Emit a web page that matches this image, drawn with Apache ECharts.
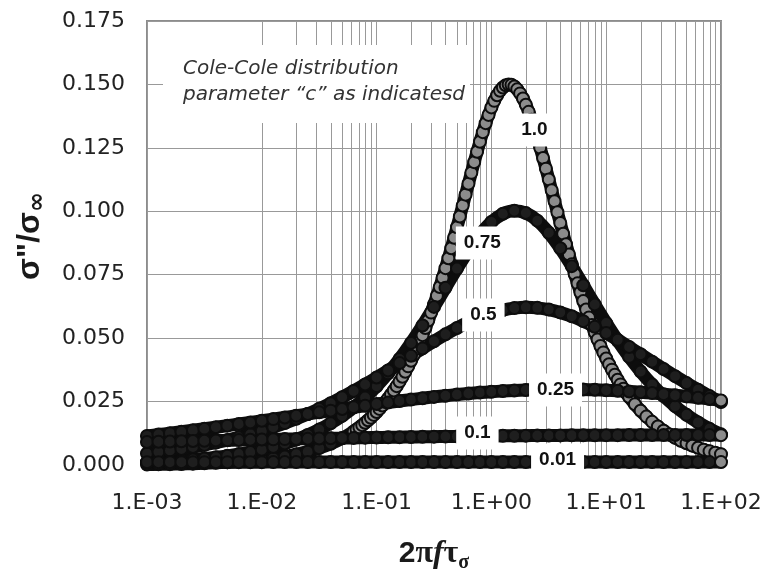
<!DOCTYPE html>
<html>
<head>
<meta charset="utf-8">
<script src="https://cdn.jsdelivr.net/npm/echarts@6/dist/echarts.min.js"></script>
<style>html,body{margin:0;padding:0;background:#fff}#chart{width:770px;height:576px}</style>
</head>
<body>
<div id="chart"></div>
<script>
// 2*pi*f*tau sampling, 0.1 decade
var freq = [0.001, 0.001259, 0.001585, 0.001995, 0.002512, 0.003162, 0.003981, 0.005012, 0.00631, 0.007943,
    0.01, 0.01259, 0.01585, 0.01995, 0.02512, 0.03162, 0.03981, 0.05012, 0.0631, 0.07943,
    0.1, 0.1259, 0.1585, 0.1995, 0.2512, 0.3162, 0.3981, 0.5012, 0.631, 0.7943,
    1, 1.259, 1.585, 1.995, 2.512, 3.162, 3.981, 5.012, 6.31, 7.943,
    10, 12.59, 15.85, 19.95, 25.12, 31.62, 39.81, 50.12, 63.1, 79.43, 100];

// finer sampling for the c = 1.0 curve
var freqFine = [0.001, 0.001259, 0.001585, 0.001995, 0.002512, 0.003162, 0.003981, 0.005012, 0.00631, 0.007943,
    0.01, 0.01259, 0.01585, 0.01995, 0.02512, 0.03162, 0.03981, 0.05012, 0.0631,
    0.06683, 0.07079, 0.07499, 0.07943, 0.08414, 0.08913, 0.09441, 0.1,
    0.1059, 0.1122, 0.1189, 0.1259, 0.1334, 0.1413, 0.1496, 0.1585,
    0.1679, 0.1778, 0.1884, 0.1995, 0.2113, 0.2239, 0.2371, 0.2512,
    0.2661, 0.2818, 0.2985, 0.3162, 0.335, 0.3548, 0.3758, 0.3981,
    0.4217, 0.4467, 0.4732, 0.5012, 0.5309, 0.5623, 0.5957, 0.631,
    0.6683, 0.7079, 0.7499, 0.7943, 0.8414, 0.8913, 0.9441, 1,
    1.059, 1.122, 1.189, 1.259, 1.334, 1.413, 1.496, 1.585,
    1.679, 1.778, 1.884, 1.995, 2.113, 2.239, 2.371, 2.512,
    2.661, 2.818, 2.985, 3.162, 3.35, 3.548, 3.758, 3.981,
    4.217, 4.467, 4.732, 5.012, 5.309, 5.623, 5.957, 6.31,
    6.683, 7.079, 7.499, 7.943, 8.414, 8.913, 9.441, 10,
    10.59, 11.22, 11.89, 12.59, 13.34, 14.13, 14.96, 15.85,
    17.78, 19.95, 22.39, 25.12, 28.18, 31.62, 35.48, 39.81, 44.67, 50.12, 56.23, 63.1, 70.79, 79.43, 89.13, 100];

var c100 = [0.00021, 0.00026, 0.00033, 0.00042, 0.00053, 0.00066, 0.00084, 0.00105, 0.00133, 0.00167,
    0.0021, 0.00264, 0.00333, 0.00419, 0.00527, 0.00664, 0.00835, 0.01051, 0.01322,
    0.01400, 0.01483, 0.01570, 0.01663, 0.01761, 0.01864, 0.01974, 0.02090,
    0.02212, 0.02342, 0.02479, 0.02623, 0.02776, 0.02938, 0.03108, 0.03288,
    0.03477, 0.03677, 0.03888, 0.04110, 0.04343, 0.04589, 0.04846, 0.05117,
    0.05400, 0.05697, 0.06007, 0.06331, 0.06668, 0.07018, 0.07382, 0.07758,
    0.08146, 0.08545, 0.08954, 0.09371, 0.09796, 0.10225, 0.10656, 0.11087,
    0.11515, 0.11936, 0.12346, 0.12742, 0.13119, 0.13473, 0.13799, 0.14094,
    0.14353, 0.14573, 0.14750, 0.14881, 0.14965, 0.14999, 0.14984, 0.14919,
    0.14807, 0.14647, 0.14444, 0.14200, 0.13919, 0.13604, 0.13260, 0.12892,
    0.12503, 0.12098, 0.11681, 0.11256, 0.10825, 0.10394, 0.09964, 0.09537,
    0.09117, 0.08704, 0.08301, 0.07909, 0.07528, 0.07159, 0.06804, 0.06461,
    0.06132, 0.05817, 0.05515, 0.05226, 0.04951, 0.04688, 0.04438, 0.04200,
    0.03974, 0.03759, 0.03555, 0.03361, 0.03177, 0.03003, 0.02838, 0.02682,
    0.02395, 0.02137, 0.01907, 0.01701, 0.01517, 0.01353, 0.01206, 0.01075,
    0.00958, 0.00854, 0.00762, 0.00679, 0.00605, 0.00539, 0.00481, 0.00428];

var c075 = [0.00109, 0.00129, 0.00153, 0.00182, 0.00216, 0.00257, 0.00305, 0.00362, 0.00429, 0.00509,
    0.00603, 0.00714, 0.00846, 0.01000, 0.01182, 0.01395, 0.01644, 0.01935, 0.02272, 0.02660,
    0.03106, 0.03612, 0.04181, 0.04812, 0.05499, 0.06231, 0.06988, 0.07741, 0.08453, 0.09081,
    0.09577, 0.09901, 0.10022, 0.09929, 0.09630, 0.09154, 0.08541, 0.07837, 0.07087, 0.06329,
    0.05593, 0.04899, 0.04260, 0.03683, 0.03169, 0.02715, 0.02319, 0.01976, 0.01680, 0.01425, 0.01208];

var c050 = [0.00455, 0.00509, 0.00568, 0.00635, 0.00708, 0.00790, 0.00880, 0.00980, 0.01090, 0.01212,
    0.01345, 0.01491, 0.01651, 0.01825, 0.02013, 0.02216, 0.02435, 0.02668, 0.02915, 0.03176,
    0.03448, 0.03729, 0.04017, 0.04307, 0.04596, 0.04879, 0.05149, 0.05401, 0.05629, 0.05826,
    0.05988, 0.06108, 0.06184, 0.06213, 0.06194, 0.06127, 0.06015, 0.05861, 0.05670, 0.05448,
    0.05200, 0.04933, 0.04652, 0.04364, 0.04074, 0.03785, 0.03502, 0.03228, 0.02965, 0.02715, 0.02479];

var c025 = [0.01147, 0.01200, 0.01255, 0.01311, 0.01369, 0.01428, 0.01489, 0.01551, 0.01614, 0.01678,
    0.01743, 0.01809, 0.01875, 0.01942, 0.02009, 0.02076, 0.02142, 0.02209, 0.02274, 0.02338,
    0.02401, 0.02462, 0.02521, 0.02578, 0.02632, 0.02684, 0.02732, 0.02777, 0.02818, 0.02855,
    0.02887, 0.02915, 0.02939, 0.02958, 0.02971, 0.02980, 0.02984, 0.02982, 0.02975, 0.02964,
    0.02947, 0.02925, 0.02899, 0.02868, 0.02833, 0.02793, 0.02750, 0.02703, 0.02653, 0.02600, 0.02544];

var c010 = [0.00907, 0.00917, 0.00927, 0.00937, 0.00946, 0.00956, 0.00966, 0.00975, 0.00984, 0.00994,
    0.01003, 0.01011, 0.01020, 0.01029, 0.01037, 0.01046, 0.01054, 0.01061, 0.01069, 0.01077,
    0.01084, 0.01091, 0.01098, 0.01104, 0.01111, 0.01117, 0.01123, 0.01128, 0.01134, 0.01139,
    0.01144, 0.01148, 0.01152, 0.01156, 0.01160, 0.01163, 0.01167, 0.01169, 0.01172, 0.01174,
    0.01176, 0.01177, 0.01179, 0.01180, 0.01180, 0.01181, 0.01181, 0.01180, 0.01180, 0.01179, 0.01177];

var c001 = [0.00113, 0.00113, 0.00113, 0.00113, 0.00113, 0.00113, 0.00113, 0.00113, 0.00113, 0.00113,
    0.00113, 0.00114, 0.00114, 0.00114, 0.00114, 0.00114, 0.00114, 0.00114, 0.00114, 0.00114,
    0.00114, 0.00114, 0.00114, 0.00114, 0.00114, 0.00114, 0.00114, 0.00114, 0.00114, 0.00114,
    0.00114, 0.00115, 0.00115, 0.00115, 0.00115, 0.00115, 0.00115, 0.00115, 0.00115, 0.00115,
    0.00115, 0.00115, 0.00115, 0.00115, 0.00115, 0.00115, 0.00115, 0.00115, 0.00115, 0.00115, 0.00115];

// curve labels (data coords)
var labelText = ['1.0', '0.75', '0.5', '0.25', '0.1', '0.01'];
var labelX = [2.37, 0.834, 0.851, 3.62, 0.755, 3.77];
var labelY = [0.132, 0.0875, 0.0591, 0.0296, 0.0126, 0.0020];

// minor log gridlines
var minorX = [0.002, 0.003, 0.004, 0.005, 0.006, 0.007, 0.008, 0.009,
    0.02, 0.03, 0.04, 0.05, 0.06, 0.07, 0.08, 0.09,
    0.2, 0.3, 0.4, 0.5, 0.6, 0.7, 0.8, 0.9,
    2, 3, 4, 5, 6, 7, 8, 9,
    20, 30, 40, 50, 60, 70, 80, 90];

var GRAY = '#8c8c8c';
var DARK = '#1e1e1e';
var GRID = '#999999';

function points(xs, ys, grayFrom) {
    return ys.map(function (y, i) {
        var fill = (grayFrom != null && xs[i] >= grayFrom) || i === ys.length - 1 ? GRAY : DARK;
        return { value: [xs[i], y], itemStyle: { color: fill } };
    });
}

function curve(name, xs, ys, grayFrom) {
    return {
        name: name,
        type: 'line',
        data: points(xs, ys, grayFrom),
        smooth: 0.3,
        clip: false,
        showAllSymbol: true,
        symbol: 'circle',
        symbolSize: 12,
        itemStyle: { borderColor: '#0d0d0d', borderWidth: 2 },
        lineStyle: { color: '#0d0d0d', width: 13, cap: 'round' },
        z: 10
    };
}

var chart = echarts.init(document.getElementById('chart'));
var option = {
    animation: false,
    grid: { left: 147, right: 49, top: 21, bottom: 111, show: true, borderColor: '#8c8c8c', borderWidth: 2 },
    xAxis: {
        type: 'log',
        logBase: 10,
        min: 0.001,
        max: 100,
        axisLine: { show: false },
        axisTick: { show: false },
        splitLine: { show: true, lineStyle: { color: GRID, width: 1 } },
        axisLabel: {
            margin: 27,
            fontFamily: 'DejaVu Sans',
            fontSize: 22,
            color: '#222',
            formatter: function (v) {
                var e = Math.round(Math.log10(v));
                return '1.E' + (e < 0 ? '-' : '+') + String(Math.abs(e)).padStart(2, '0');
            }
        }
    },
    yAxis: {
        type: 'value',
        min: 0,
        max: 0.175,
        interval: 0.025,
        axisLine: { show: false },
        axisTick: { show: false },
        splitLine: { show: true, lineStyle: { color: GRID, width: 1 } },
        axisLabel: {
            margin: 22,
            fontFamily: 'DejaVu Sans',
            fontSize: 22,
            color: '#222',
            formatter: function (v) { return v.toFixed(3); }
        }
    },
    series: [
        {
            type: 'line',
            data: [],
            silent: true,
            z: 1,
            markLine: {
                silent: true,
                z: 1,
                symbol: 'none',
                label: { show: false },
                lineStyle: { color: GRID, width: 1, type: 'solid' },
                data: minorX.map(function (x) { return { xAxis: x }; })
            }
        },
        curve('1.0', freqFine, c100, 0.06),
        curve('0.75', freq, c075),
        curve('0.5', freq, c050),
        curve('0.25', freq, c025),
        curve('0.1', freq, c010),
        curve('0.01', freq, c001),
        {
            type: 'scatter',
            data: labelX.map(function (x, i) { return [x, labelY[i]]; }),
            symbolSize: 0,
            silent: true,
            itemStyle: { color: 'transparent', opacity: 1 },
            z: 20,
            label: {
                show: true,
                opacity: 1,
                position: 'inside',
                formatter: function (p) { return labelText[p.dataIndex]; },
                backgroundColor: '#ffffff',
                padding: [7, 8],
                fontFamily: 'Liberation Sans',
                fontWeight: 'bold',
                fontSize: 19,
                color: '#111'
            }
        }
    ],
    graphic: [
        { type: 'rect', z: 100, shape: { x: 163, y: 45, width: 307, height: 78 }, style: { fill: '#fff' } },
        {
            type: 'text', z: 101, x: 183, y: 56,
            style: {
                text: 'Cole-Cole distribution\nparameter \u201cc\u201d as indicatesd',
                font: 'italic 20px "DejaVu Sans"',
                fill: '#333',
                lineHeight: 26
            }
        },
        {
            type: 'text', z: 101, x: 30, y: 236, rotation: Math.PI / 2,
            style: {
                text: '{s|\u03c3"/\u03c3}{sub|\u221e}',
                align: 'center',
                verticalAlign: 'middle',
                fill: '#1a1a1a',
                rich: {
                    s: { fontFamily: 'Liberation Sans', fontWeight: 'bold', fontSize: 32, lineHeight: 40 },
                    sub: { fontFamily: 'DejaVu Sans', fontWeight: 'bold', fontSize: 24, lineHeight: 24, verticalAlign: 'bottom' }
                }
            }
        },
        {
            type: 'text', z: 101, x: 434, y: 554,
            style: {
                text: '{n|2}{g|\u03c0}{f|f}{g|\u03c4}{sub|\u03c3}',
                align: 'center',
                verticalAlign: 'middle',
                fill: '#1a1a1a',
                rich: {
                    n: { fontFamily: 'Liberation Sans', fontWeight: 'bold', fontSize: 30, lineHeight: 38 },
                    g: { fontFamily: 'Liberation Serif', fontWeight: 'bold', fontSize: 32, lineHeight: 38 },
                    f: { fontFamily: 'Liberation Serif', fontWeight: 'bold', fontStyle: 'italic', fontSize: 32, lineHeight: 38 },
                    sub: { fontFamily: 'Liberation Serif', fontWeight: 'bold', fontSize: 20, lineHeight: 20, verticalAlign: 'bottom' }
                }
            }
        }
    ]
};
chart.setOption(option);
</script>
</body>
</html>
